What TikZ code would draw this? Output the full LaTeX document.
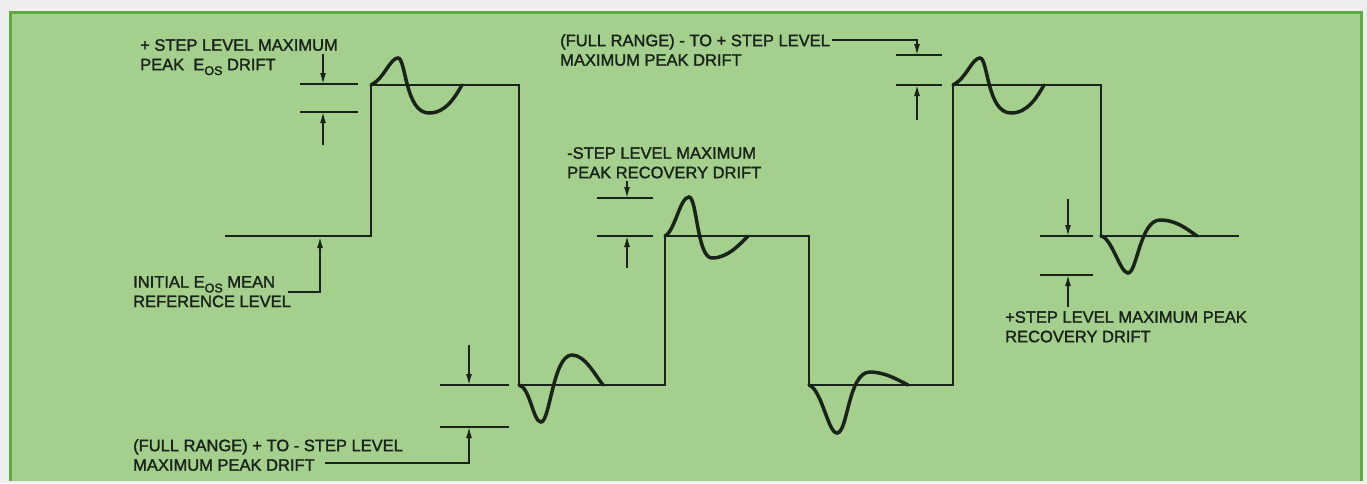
\documentclass[tikz,border=0pt]{standalone}
\usepackage{fontspec}
\setmainfont{Liberation Sans}[FakeBold=1.6]
\usepackage{xcolor}
\usetikzlibrary{arrows.meta, calc}

\definecolor{paper}{HTML}{EEEEEE}
\definecolor{panel}{HTML}{A4CF8C}
\definecolor{frame}{HTML}{5FAA41}
\definecolor{ink}{HTML}{1A231A}

\newcommand{\Eos}{E\raisebox{-0.55ex}{\fontsize{12.5}{12.5}\selectfont OS}}

\begin{document}
\begin{tikzpicture}[
    x=1pt, y=-1pt,
    label/.style={anchor=north west, inner sep=0pt, align=left, text=ink,
        font=\fontsize{16.5}{19.5}\selectfont},
    tick/.style={draw=ink, line width=1.5pt},
    arrow/.style={-{Latex[length=11pt, width=6pt]}, draw=ink, line width=1.5pt},
    level/.style={draw=ink, line width=2.1pt},
    wiggle/.style={draw=ink, line width=3.5pt, line cap=round},
]
    \useasboundingbox[fill=paper] (0,0) rectangle (1367,483);
    \fill[panel] (10,12) rectangle (1361,481);
    \draw[frame, line width=3pt] (10,481) -- (10,12) -- (1361,12) -- (1361,481);

    % step response
    \draw[level] (225,236) -- (371,236) -- (371,85) -- (519,85) -- (519,385)
        -- (665,385) -- (665,236) -- (809,236) -- (809,385) -- (953,385)
        -- (953,85) -- (1101,85) -- (1101,236) -- (1239,236);

    % ringing after each step
    \draw[wiggle] (371,85) .. controls (384,79) and (390,58) .. (398,58)
        .. controls (406,58) and (405,113) .. (429,113)
        .. controls (446,113) and (455,97) .. (462,85);
    \draw[wiggle] (519,385) .. controls (530,387) and (533,422) .. (541,422)
        .. controls (550,422) and (553,355) .. (572,355)
        .. controls (585,355) and (595,375) .. (603,385);
    \draw[wiggle] (665,236) .. controls (675,231) and (680,197) .. (689,197)
        .. controls (697,197) and (697,258) .. (712,258)
        .. controls (728,258) and (740,244) .. (748,236);
    \draw[wiggle] (809,385) .. controls (822,390) and (828,433) .. (837,433)
        .. controls (848,433) and (848,372) .. (870,372)
        .. controls (885,372) and (898,380) .. (908,385);
    \draw[wiggle] (953,85) .. controls (966,79) and (972,58) .. (980,58)
        .. controls (988,58) and (987,113) .. (1011,113)
        .. controls (1028,113) and (1037,97) .. (1044,85);
    \draw[wiggle] (1101,236) .. controls (1112,238) and (1120,273) .. (1128,273)
        .. controls (1137,273) and (1140,220) .. (1160,220)
        .. controls (1177,220) and (1188,230) .. (1197,236);

    % labels
    \node[label] (posdrift) at (140,39) {+ STEP LEVEL MAXIMUM\\PEAK \ \Eos{} DRIFT};
    \node[label] (initref) at (133,276) {INITIAL \Eos{} MEAN\\REFERENCE LEVEL};
    \node[label] (fullneg) at (133,439) {(FULL RANGE) + TO - STEP LEVEL\\MAXIMUM PEAK DRIFT};
    \node[label] (negrec) at (567,147) {-STEP LEVEL MAXIMUM\\PEAK RECOVERY DRIFT};
    \node[label] (fullpos) at (560,34) {(FULL RANGE) - TO + STEP LEVEL\\MAXIMUM PEAK DRIFT};
    \node[label] (posrec) at (1005,311) {+STEP LEVEL MAXIMUM PEAK\\RECOVERY DRIFT};

    % tick marks
    \coordinate (a1) at (323,84);   \coordinate (a2) at (323,112);
    \coordinate (b1) at (469,385);  \coordinate (b2) at (469,427);
    \coordinate (c1) at (627,198);  \coordinate (c2) at (627,236);
    \coordinate (d1) at (917,55);   \coordinate (d2) at (917,85);
    \coordinate (e1) at (1068,236); \coordinate (e2) at (1068,275);
    \coordinate (r0) at (320,237);
    \foreach \t/\l/\r in {a1/23/35, a2/23/35, b1/29/40, b2/29/40,
        c1/30/26, c2/30/26, d1/21/25, d2/21/25, e1/28/25, e2/28/25}
        \draw[tick] ($(\t)+(-\l,0)$) -- ($(\t)+(\r,0)$);

    \draw[arrow] ($(a1)+(0,-30)$) -- (a1);
    \draw[arrow] ($(a2)+(0,33)$) -- (a2);
    \draw[arrow] ($(b1)+(0,-40)$) -- (b1);
    \draw[arrow] (325,463) -| (b2);
    \draw[arrow] ($(c1)+(0,-17)$) -- (c1);
    \draw[arrow] ($(c2)+(0,32)$) -- (c2);
    \draw[arrow] (832,40) -| (d1);
    \draw[arrow] ($(d2)+(0,35)$) -- (d2);
    \draw[arrow] ($(e1)+(0,-37)$) -- (e1);
    \draw[arrow] ($(e2)+(0,32)$) -- (e2);
    \draw[arrow] (288,292) -| (r0);
\end{tikzpicture}
\end{document}
